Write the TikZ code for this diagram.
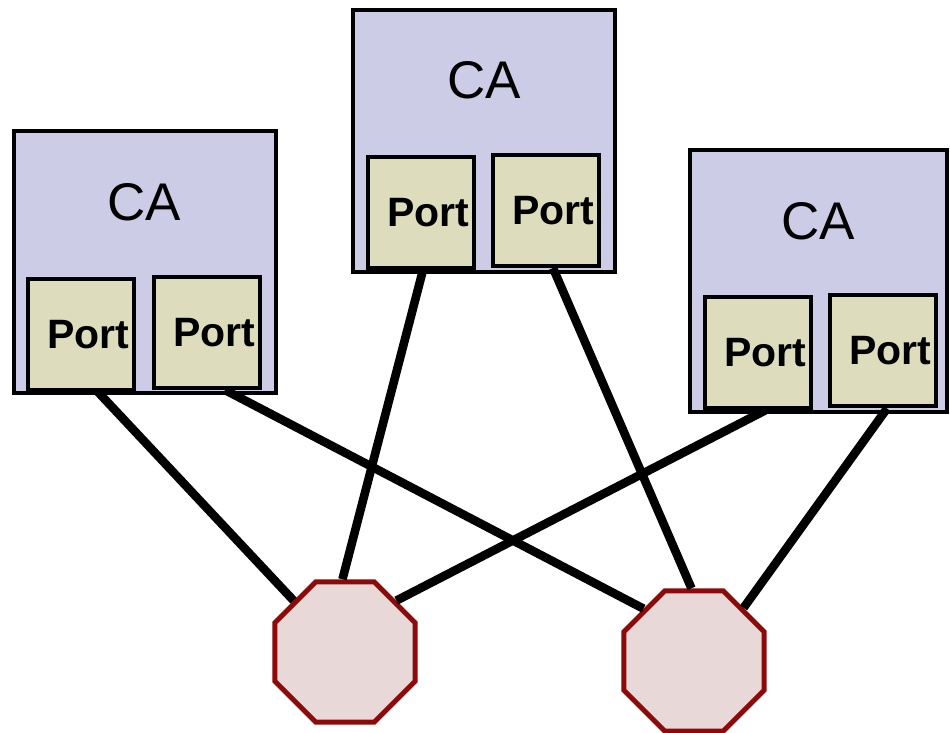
\documentclass[tikz,border=0pt]{standalone}
\usepackage{fontspec}
\setmainfont{Liberation Sans}
\usetikzlibrary{shapes.geometric}
\definecolor{cafill}{RGB}{204,204,230}
\definecolor{portfill}{RGB}{221,221,190}
\definecolor{swfill}{RGB}{232,216,216}
\definecolor{swdraw}{RGB}{140,10,10}

\begin{document}
\begin{tikzpicture}[x=0.5pt,y=-0.5pt,
        cabox/.style={draw, line width=2pt, fill=cafill, minimum width=131pt, minimum height=131pt, inner sep=0pt},
        catext/.style={font=\fontsize{26.5}{30}\selectfont},
        portbox/.style={draw, line width=2pt, fill=portfill, minimum width=53pt, minimum height=55.5pt, inner sep=0pt,
            font=\bfseries\fontsize{20.5}{24}\selectfont, execute at begin node=\hspace*{7pt}},
        switch/.style={regular polygon, regular polygon sides=8, draw=swdraw, line width=2.5pt, fill=swfill, minimum size=76pt, inner sep=0pt},
        link/.style={line width=4.3pt}]
        \useasboundingbox (0,0) rectangle (950,733);

        % channel adapters
        \node[cabox] (lca) at (144.5,262.5) {};
        \node[catext] (lcatxt) at (144.5,202.5) {CA};
        \node[portbox] (lp1) at (81,334.5) {Port};
        \node[portbox] (lp2) at (207,332.5) {Port};

        \node[cabox] (mca) at (484,141) {};
        \node[catext] (mcatxt) at (484,80.5) {CA};
        \node[portbox] (mp1) at (421,212.5) {Port};
        \node[portbox] (mp2) at (546,210.5) {Port};

        \node[cabox, minimum width=128.5pt] (rca) at (818.5,281.5) {};
        \node[catext] (rcatxt) at (818.5,221.5) {CA};
        \node[portbox] (rp1) at (758,353) {Port};
        \node[portbox] (rp2) at (883,351) {Port};

        % switches
        \node[switch] (lsw) at (345,652) {};
        \node[switch] (rsw) at (694,661) {};

        % links
        \draw[link] ([xshift=8.5pt]lp1.south) -- (lsw.135);
        \draw[link] ([xshift=9pt]lp2.south) -- (rsw.134);
        \draw[link] ([xshift=1pt]mp1.south) -- (lsw.92);
        \draw[link] ([xshift=3.5pt]mp2.south) -- (rsw.92);
        \draw[link] ([xshift=3.5pt]rp1.south) -- (lsw.45);
        \draw[link] ([xshift=2pt]rp2.south) -- (rsw.47);
\end{tikzpicture}
\end{document}
